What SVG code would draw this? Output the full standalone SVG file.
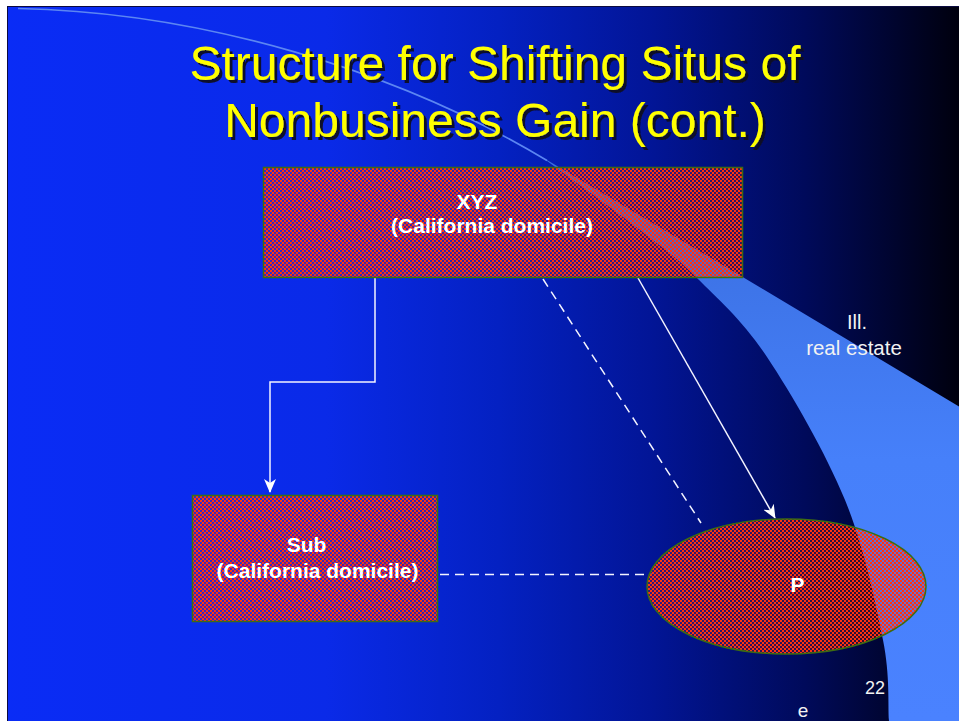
<svg xmlns="http://www.w3.org/2000/svg" width="959" height="721" viewBox="0 0 959 721">
  <defs>
    <linearGradient id="bg" x1="0" y1="0" x2="959" y2="0" gradientUnits="userSpaceOnUse">
      <stop offset="0" stop-color="#0a2cf6"/>
      <stop offset="0.34" stop-color="#0a2ae8"/>
      <stop offset="0.52" stop-color="#0421c2"/>
      <stop offset="0.68" stop-color="#021596"/>
      <stop offset="0.84" stop-color="#000a5a"/>
      <stop offset="1" stop-color="#00000e"/>
    </linearGradient>
    <linearGradient id="swoosh" x1="0" y1="200" x2="0" y2="720" gradientUnits="userSpaceOnUse">
      <stop offset="0" stop-color="#3a6fe0"/>
      <stop offset="0.5" stop-color="#4680fa"/>
      <stop offset="1" stop-color="#4a82ff"/>
    </linearGradient>
    <pattern id="checker" x="0" y="0" width="4" height="4" patternUnits="userSpaceOnUse">
      <rect x="0" y="0" width="4" height="4" fill="#ff2000" fill-opacity="0.18" shape-rendering="crispEdges"/>
      <rect x="0" y="0" width="2" height="2" fill="#ff3410" shape-rendering="crispEdges"/>
      <rect x="2" y="2" width="2" height="2" fill="#ff3410" shape-rendering="crispEdges"/>
    </pattern>
    <filter id="shadow" x="-5%" y="-20%" width="110%" height="140%">
      <feDropShadow dx="3" dy="3" stdDeviation="0.4" flood-color="#0a0a20" flood-opacity="0.95"/>
    </filter>
    <marker id="arrow" viewBox="0 0 14 12" refX="13" refY="6" markerWidth="14" markerHeight="12" markerUnits="userSpaceOnUse" orient="auto">
      <path d="M0,0 L14,6 L0,12 L4,6 Z" fill="#ffffff"/>
    </marker>
    <style>
      .title { font-family: "Liberation Sans", Arial, sans-serif; font-size: 48px; text-anchor: middle; fill: #ffff00; }
      .label { font-family: "Liberation Sans", Arial, sans-serif; font-size: 21px; font-weight: bold; fill: #ffffff; text-anchor: middle; }
      .plain { font-family: "Liberation Sans", Arial, sans-serif; fill: #f2f2f2; text-anchor: middle; }
      .node { fill: url(#checker); stroke: #3d6b12; stroke-width: 1.5; }
      .wire { fill: none; stroke: #f4f4ff; stroke-width: 1.5; }
      .dash { stroke-dasharray: 9 6; }
    </style>
  </defs>

  <!-- page margin and slide background -->
  <rect x="0" y="0" width="959" height="721" fill="#ffffff"/>
  <rect x="7.5" y="6.5" width="960" height="720" fill="url(#bg)" stroke="#0b0b40" stroke-width="1"/>

  <!-- decorative swoosh -->
  <path d="M18,8.5 C200,12 397,70 547,160.5" fill="none" stroke="#5c86f2" stroke-width="1.6"/>
  <path d="M547,160 L965,410 L965,725 L889.5,725 L889,721 C887.8,704.3 890.3,676.8 883,640 C875.7,603.2 864.3,547.2 845,500 C825.7,452.8 791.7,394 767,357 C742.3,320 718.2,299.2 697,278 C675.8,256.8 665,249.5 640,230 C615,210.5 578,184 547,161 Z" fill="url(#swoosh)"/>

  <!-- title -->
  <g id="title" filter="url(#shadow)">
    <text class="title" x="495" y="80">Structure for Shifting Situs of</text>
    <text class="title" x="495" y="137">Nonbusiness Gain (cont.)</text>
  </g>

  <!-- connectors -->
  <g id="connectors">
    <polyline class="wire" points="375,278 375,382 270,382 270,492" marker-end="url(#arrow)"/>
    <line class="wire dash" x1="543" y1="279" x2="701" y2="523"/>
    <path class="wire" d="M638,278 Q650,300 775,518" marker-end="url(#arrow)"/>
    <line class="wire dash" x1="440" y1="574.5" x2="652" y2="574.5"/>
  </g>

  <!-- nodes -->
  <g id="node-xyz">
    <rect class="node" x="263.5" y="167.5" width="479" height="110"/>
    <text class="label" x="477" y="209">XYZ</text>
    <text class="label" x="492" y="233">(California domicile)</text>
  </g>
  <g id="node-sub">
    <rect class="node" x="192.5" y="495.5" width="245" height="126"/>
    <text class="label" x="306.5" y="552">Sub</text>
    <text class="label" x="317.5" y="578">(California domicile)</text>
  </g>
  <g id="node-p">
    <ellipse class="node" cx="786.5" cy="586.5" rx="139.5" ry="67.5"/>
    <text class="label" x="797.5" y="592">P</text>
  </g>

  <!-- annotations -->
  <g id="note-ill">
    <text class="plain" x="857" y="329" font-size="20">Ill.</text>
    <text class="plain" x="854" y="355" font-size="20.5">real estate</text>
  </g>
  <text class="plain" x="875" y="694" font-size="18">22</text>
  <text class="plain" x="803" y="717" font-size="19">e</text>
</svg>
